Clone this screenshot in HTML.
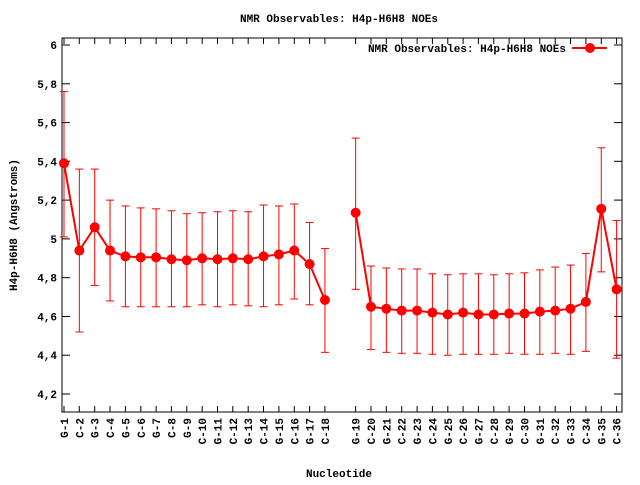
<!DOCTYPE html>
<html><head><meta charset="utf-8"><style>
html,body{margin:0;padding:0;background:#fff;}
svg text{font-family:"Liberation Mono",monospace;font-weight:bold;font-size:11px;fill:#000;}
</style></head><body>
<svg id="s" width="640" height="480" xmlns="http://www.w3.org/2000/svg">
<rect x="0" y="0" width="640" height="480" fill="#fff"/>
<text x="339" y="22" text-anchor="middle">NMR Observables: H4p-H6H8 NOEs</text>
<text x="339" y="477" text-anchor="middle">Nucleotide</text>
<text transform="translate(17,225) rotate(-90)" text-anchor="middle">H4p-H6H8 (Angstroms)</text>
<g id="g"></g>
</svg>
<script>
var d=[[5.39,5.01,5.76],[4.94,4.52,5.36],[5.06,4.76,5.36],[4.94,4.68,5.20],[4.91,4.65,5.17],[4.905,4.65,5.16],[4.905,4.65,5.155],[4.895,4.65,5.145],[4.89,4.65,5.13],[4.90,4.66,5.135],[4.895,4.65,5.14],[4.90,4.66,5.145],[4.895,4.655,5.14],[4.91,4.65,5.175],[4.92,4.66,5.17],[4.94,4.69,5.18],[4.87,4.66,5.085],[4.685,4.415,4.95],
[5.135,4.74,5.52],[4.65,4.43,4.86],[4.64,4.415,4.85],[4.63,4.41,4.845],[4.63,4.41,4.845],[4.62,4.405,4.82],[4.61,4.40,4.815],[4.62,4.405,4.82],[4.61,4.405,4.82],[4.61,4.405,4.815],[4.615,4.41,4.82],[4.615,4.405,4.825],[4.625,4.405,4.84],[4.63,4.41,4.855],[4.64,4.405,4.865],[4.675,4.42,4.925],[5.155,4.83,5.47],[4.74,4.385,5.095]];
function Y(v){return 45+(6-v)*193.9;}
function X(i){var p=i<18?i:i+1;return 64+p*15.35;}
var L=62,R=622,T=38,B=412,h='';
for(var k=0;k<10;k++){var v=4.2+k*0.2,y=Y(v).toFixed(1);
h+='<line x1="'+L+'" y1="'+y+'" x2="'+(L+8)+'" y2="'+y+'" stroke="#000"/><line x1="'+(R-8)+'" y1="'+y+'" x2="'+R+'" y2="'+y+'" stroke="#000"/>';
var s=(Math.round(v*10)/10).toString().replace('.',',');
h+='<text x="'+(L-5)+'" y="'+(+y+4)+'" text-anchor="end">'+s+'</text>';}
var pts1=[],pts2=[];
for(var i=0;i<36;i++){var x=X(i).toFixed(1);var n=i+1;var lab=((i%2==0)?'G-':'C-')+n;
h+='<line x1="'+x+'" y1="'+B+'" x2="'+x+'" y2="'+(B-6)+'" stroke="#000"/><line x1="'+x+'" y1="'+T+'" x2="'+x+'" y2="'+(T+6)+'" stroke="#000"/>';
h+='<text transform="translate('+(+x+4)+','+(B+6)+') rotate(-90)" text-anchor="end">'+lab+'</text>';
(i<18?pts1:pts2).push(x+','+Y(d[i][0]).toFixed(1));}
h+='<rect x="'+L+'" y="'+T+'" width="'+(R-L)+'" height="'+(B-T)+'" fill="none" stroke="#000"/>';
for(var i=0;i<36;i++){var x=X(i),a=Y(d[i][1]),b=Y(d[i][2]);
h+='<line x1="'+x+'" y1="'+a+'" x2="'+x+'" y2="'+b+'" stroke="#f00"/><line x1="'+(x-4)+'" y1="'+a+'" x2="'+(x+4)+'" y2="'+a+'" stroke="#f00"/><line x1="'+(x-4)+'" y1="'+b+'" x2="'+(x+4)+'" y2="'+b+'" stroke="#f00"/>';}
h+='<polyline points="'+pts1.join(' ')+'" fill="none" stroke="#f00" stroke-width="2"/><polyline points="'+pts2.join(' ')+'" fill="none" stroke="#f00" stroke-width="2"/>';
for(var i=0;i<36;i++)h+='<circle cx="'+X(i)+'" cy="'+Y(d[i][0])+'" r="5" fill="#f00"/>';
h+='<text x="566" y="52" text-anchor="end">NMR Observables: H4p-H6H8 NOEs</text><line x1="572" y1="48" x2="607" y2="48" stroke="#f00" stroke-width="2"/><circle cx="590" cy="48" r="5" fill="#f00"/>';
document.getElementById('g').innerHTML=h;
</script>
</body></html>
